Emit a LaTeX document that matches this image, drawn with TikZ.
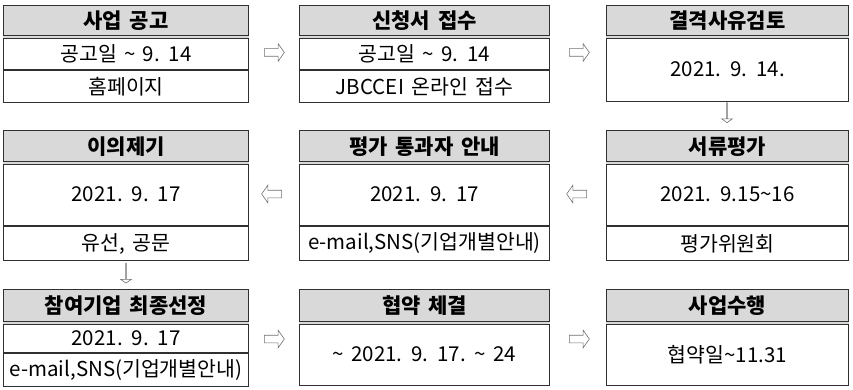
\documentclass[tikz,border=0pt]{standalone}
\usepackage{fontspec}
\newfontfamily\kr[WordSpace=1.6]{Noto Sans CJK KR}
\usetikzlibrary{shapes.arrows}
\definecolor{bd}{HTML}{303030}
\definecolor{hd}{HTML}{D9D9D9}
\definecolor{ar}{HTML}{707070}
\newcommand{\tld}{\textasciitilde}
\tikzset{
  hdr/.style={draw=bd, fill=hd, line width=1pt, anchor=north west, inner sep=0pt,
    font=\kr\bfseries\fontsize{21}{24}\selectfont},
  cell/.style={draw=bd, line width=1pt, anchor=north west, inner sep=0pt,
    font=\kr\fontsize{20.5}{23}\selectfont},
  dbl/.style={draw=bd, line width=1pt, double=hd, double distance=1.2pt},
  arr/.style={single arrow, draw=ar, line width=0.6pt, fill=white,
    minimum height=20pt, single arrow head extend=5pt, inner xsep=0pt,
    inner ysep=3.5pt, single arrow tip angle=110},
}
\begin{document}
\begin{tikzpicture}[x=1pt,y=-1pt]
\useasboundingbox (0,0) rectangle (853,390);
% Row 1
\node[hdr, minimum width=245pt, minimum height=31pt] (h1) at (3,5) {사업 공고};
\node[cell, minimum width=245pt, minimum height=32pt] (c1a) at (h1.south west) {공고일 \tld{} 9. 14};
\node[cell, minimum width=245pt, minimum height=32pt] (c1b) at (c1a.south west) {홈페이지};
\draw[dbl] (h1.south west) -- (h1.south east);

\node[hdr, minimum width=250pt, minimum height=31pt] (h2) at (299,5) {신청서 접수};
\node[cell, minimum width=250pt, minimum height=32pt] (c2a) at (h2.south west) {공고일 \tld{} 9. 14};
\node[cell, minimum width=250pt, minimum height=32pt] (c2b) at (c2a.south west) {JBCCEI 온라인 접수};
\draw[dbl] (h2.south west) -- (h2.south east);

\node[hdr, minimum width=242pt, minimum height=31pt] (h3) at (606,5) {결격사유검토};
\node[cell, minimum width=242pt, minimum height=64pt] (c3a) at (h3.south west) {2021. 9. 14.};
\draw[dbl] (h3.south west) -- (h3.south east);

% Row 2
\node[hdr, minimum width=245pt, minimum height=32pt] (h4) at (3,130) {이의제기};
\node[cell, minimum width=245pt, minimum height=62pt] (c4a) at (h4.south west) {2021. 9. 17};
\node[cell, minimum width=245pt, minimum height=34pt] (c4b) at (c4a.south west) {유선, 공문};
\draw[dbl] (h4.south west) -- (h4.south east);

\node[hdr, minimum width=250pt, minimum height=32pt] (h5) at (299,130) {평가 통과자 안내};
\node[cell, minimum width=250pt, minimum height=62pt] (c5a) at (h5.south west) {2021. 9. 17};
\node[cell, minimum width=250pt, minimum height=34pt] (c5b) at (c5a.south west) {e-mail,SNS(기업개별안내)};
\draw[dbl] (h5.south west) -- (h5.south east);

\node[hdr, minimum width=242pt, minimum height=32pt] (h6) at (606,130) {서류평가};
\node[cell, minimum width=242pt, minimum height=62pt] (c6a) at (h6.south west) {2021. 9.15\tld16};
\node[cell, minimum width=242pt, minimum height=34pt] (c6b) at (c6a.south west) {평가위원회};
\draw[dbl] (h6.south west) -- (h6.south east);

% Row 3
\node[hdr, minimum width=245pt, minimum height=33pt] (h7) at (3,289) {참여기업 최종선정};
\node[cell, minimum width=245pt, minimum height=29pt] (c7a) at (h7.south west) {2021. 9. 17};
\node[cell, minimum width=245pt, minimum height=33pt] (c7b) at (c7a.south west) {e-mail,SNS(기업개별안내)};
\draw[dbl] (h7.south west) -- (h7.south east);

\node[hdr, minimum width=250pt, minimum height=33pt] (h8) at (299,289) {협약 체결};
\node[cell, minimum width=250pt, minimum height=62pt] (c8a) at (h8.south west) {\tld{} 2021. 9. 17. \tld{} 24};
\draw[dbl] (h8.south west) -- (h8.south east);

\node[hdr, minimum width=242pt, minimum height=33pt] (h9) at (606,289) {사업수행};
\node[cell, minimum width=242pt, minimum height=62pt] (c9a) at (h9.south west) {협약일\tld11.31};
\draw[dbl] (h9.south west) -- (h9.south east);

% Arrows
\node[arr] (a1) at (273,52.5) {};
\node[arr] (a2) at (578,52.5) {};
\node[arr, shape border rotate=270] (a3) at (727,112.5) {};
\node[arr, shape border rotate=180] (a4) at (578,194) {};
\node[arr, shape border rotate=180] (a5) at (273,194) {};
\node[arr, shape border rotate=270] (a6) at (126,273) {};
\node[arr] (a7) at (273,339) {};
\node[arr] (a8) at (578,339) {};
\end{tikzpicture}
\end{document}
